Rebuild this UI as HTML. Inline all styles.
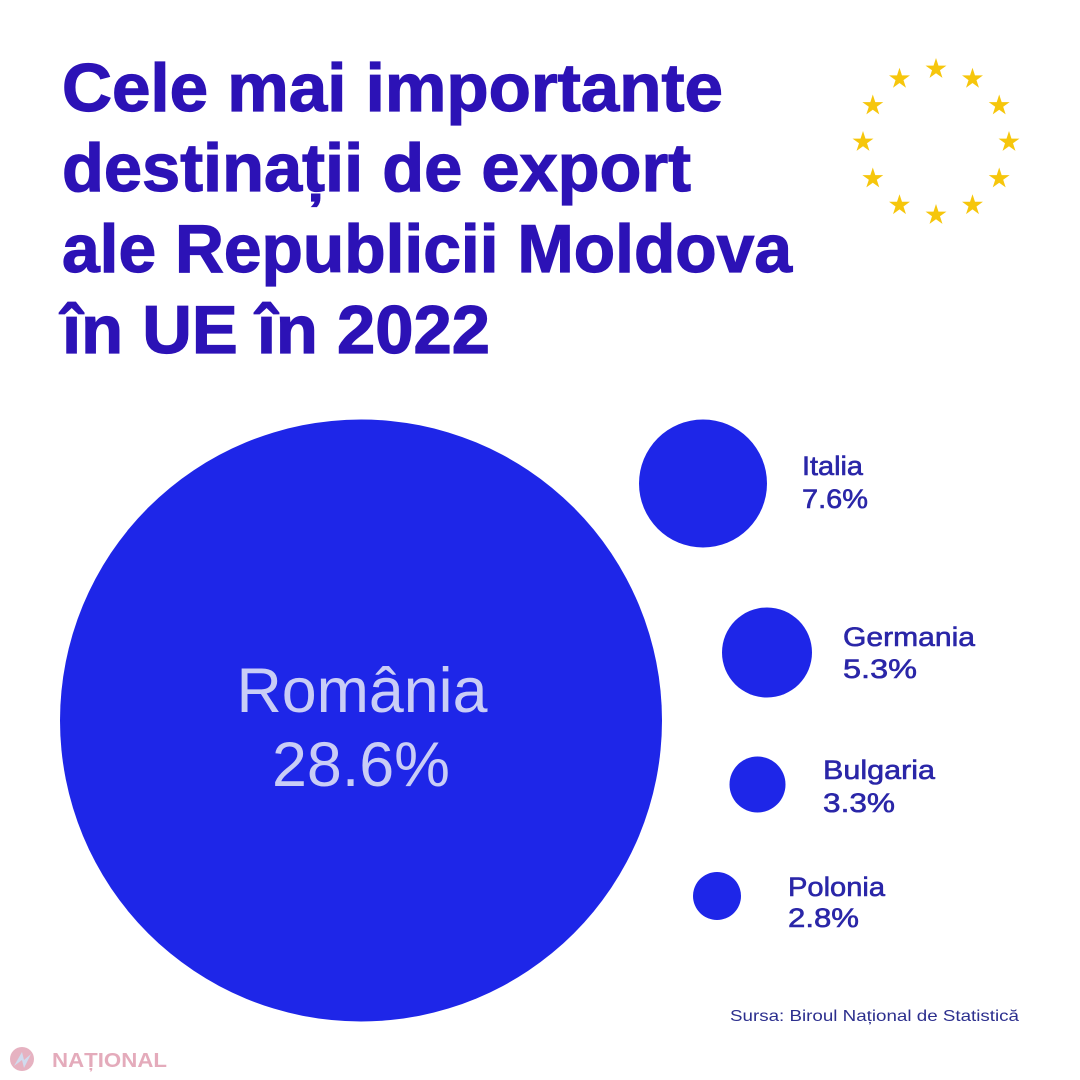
<!DOCTYPE html>
<html>
<head>
<meta charset="utf-8">
<style>
  html, body { margin: 0; padding: 0; background: #ffffff; }
  body { width: 1080px; height: 1080px; overflow: hidden; }
  svg { display: block; }
</style>
</head>
<body>
<svg width="1080" height="1080" viewBox="0 0 1080 1080" xmlns="http://www.w3.org/2000/svg">
  <defs>
    <polygon id="star" points="0,-11 2.47,-3.4 10.46,-3.4 3.99,1.3 6.47,8.9 0,4.2 -6.47,8.9 -3.99,1.3 -10.46,-3.4 -2.47,-3.4" fill="#f6c60c"/>
  </defs>
  <rect width="1080" height="1080" fill="#ffffff"/>

  <!-- Title -->
  <g font-family="'Liberation Sans', sans-serif" font-weight="bold" font-size="68" fill="#2c12b6" stroke="#2c12b6" stroke-width="1.2">
    <text x="62" y="111" textLength="661" lengthAdjust="spacingAndGlyphs">Cele mai importante</text>
    <text x="62" y="191" textLength="629" lengthAdjust="spacingAndGlyphs">destinații de export</text>
    <text x="62" y="272" textLength="730" lengthAdjust="spacingAndGlyphs">ale Republicii Moldova</text>
    <text x="62" y="353" textLength="428" lengthAdjust="spacingAndGlyphs">în UE în 2022</text>
  </g>

  <!-- EU stars -->
  <use href="#star" x="936" y="69"/>
  <use href="#star" x="972.5" y="78.8"/>
  <use href="#star" x="999.2" y="105.5"/>
  <use href="#star" x="1009" y="142"/>
  <use href="#star" x="999.2" y="178.5"/>
  <use href="#star" x="972.5" y="205.2"/>
  <use href="#star" x="936" y="215"/>
  <use href="#star" x="899.5" y="205.2"/>
  <use href="#star" x="872.8" y="178.5"/>
  <use href="#star" x="863" y="142"/>
  <use href="#star" x="872.8" y="105.5"/>
  <use href="#star" x="899.5" y="78.8"/>

  <!-- Bubbles -->
  <g fill="#1e26e8">
    <circle cx="361" cy="720.5" r="301"/>
    <circle cx="703" cy="483.5" r="64"/>
    <circle cx="767" cy="652.5" r="45"/>
    <circle cx="757.5" cy="784.5" r="28"/>
    <circle cx="717" cy="896" r="24"/>
  </g>

  <!-- Romania label -->
  <g font-family="'Liberation Sans', sans-serif" font-size="63" fill="#c9cdf6" text-anchor="middle">
    <text x="362" y="712" textLength="251" lengthAdjust="spacingAndGlyphs">România</text>
    <text x="361" y="786" textLength="178" lengthAdjust="spacingAndGlyphs">28.6%</text>
  </g>

  <!-- Side labels -->
  <g font-family="'Liberation Sans', sans-serif" font-size="27" fill="#2a26a8" stroke="#2a26a8" stroke-width="0.6">
    <text x="802" y="475" textLength="61" lengthAdjust="spacingAndGlyphs">Italia</text>
    <text x="802" y="508" textLength="66" lengthAdjust="spacingAndGlyphs">7.6%</text>
    <text x="843" y="646" textLength="132" lengthAdjust="spacingAndGlyphs">Germania</text>
    <text x="843" y="678" textLength="74" lengthAdjust="spacingAndGlyphs">5.3%</text>
    <text x="823" y="779" textLength="112" lengthAdjust="spacingAndGlyphs">Bulgaria</text>
    <text x="823" y="812" textLength="72" lengthAdjust="spacingAndGlyphs">3.3%</text>
    <text x="788" y="896" textLength="97" lengthAdjust="spacingAndGlyphs">Polonia</text>
    <text x="788" y="927" textLength="71" lengthAdjust="spacingAndGlyphs">2.8%</text>
  </g>

  <!-- Source -->
  <text x="730" y="1021" font-family="'Liberation Sans', sans-serif" font-size="16" fill="#2c2f8e" textLength="289" lengthAdjust="spacingAndGlyphs">Sursa: Biroul Național de Statistică</text>

  <!-- Watermark -->
  <g opacity="0.65">
    <circle cx="22" cy="1059" r="12" fill="#d98aa0"/>
    <path d="M14,1066 L22,1052 L24,1060 L31,1054 L24,1068 L22,1060 Z" fill="#b9c9e6"/>
    <text x="52" y="1067" font-family="'Liberation Sans', sans-serif" font-weight="bold" font-size="20" fill="#d77f98" textLength="115" lengthAdjust="spacingAndGlyphs">NAȚIONAL</text>
  </g>
</svg>
</body>
</html>
